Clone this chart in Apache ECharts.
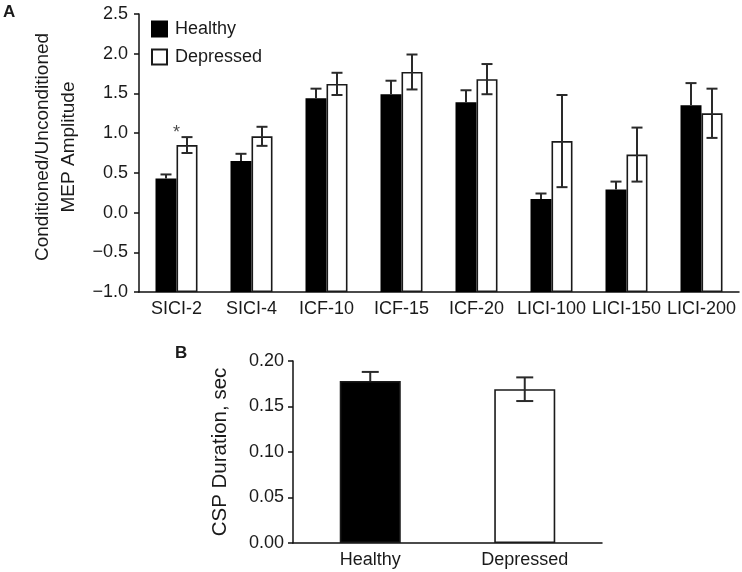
<!DOCTYPE html>
<html>
<head>
<meta charset="utf-8">
<script src="https://cdn.jsdelivr.net/npm/echarts@6/dist/echarts.min.js"></script>
<style>
html,body{margin:0;padding:0;background:#fff;}
#main{width:742px;height:572px;}
</style>
</head>
<body>
<div id="main"></div>
<script>
// ---- Data ----
const categories = ['SICI-2', 'SICI-4', 'ICF-10', 'ICF-15', 'ICF-20', 'LICI-100', 'LICI-150', 'LICI-200'];
const healthy = [0.43, 0.65, 1.44, 1.49, 1.39, 0.17, 0.29, 1.35];
const healthyErr = [0.05, 0.09, 0.12, 0.17, 0.15, 0.07, 0.10, 0.28];
const depressed = [0.85, 0.96, 1.62, 1.77, 1.68, 0.90, 0.73, 1.25];
const depressedErr = [0.10, 0.12, 0.14, 0.22, 0.19, 0.58, 0.34, 0.31];
const sigMarks = [['SICI-2', 1.0]];
const cspGroups = ['Healthy', 'Depressed'];
const cspMean = [0.178, 0.169];
const cspErr = [0.010, 0.013];

const FONT = 'Liberation Sans, Arial, sans-serif';
const TXT = '#1a1a1a';
const ERR = '#2a2a2a';

// hideLower: predicate on dataIndex -> true when the lower half sits over a black bar
function errRender(offsetFrac, capW, hideLower) {
  return function (params, api) {
    const i = api.value(0), v = api.value(1), e = api.value(2);
    const band = api.size([1, 0])[0];
    const x = api.coord([i, v])[0] + offsetFrac * band;
    const yt = api.coord([i, v + e])[1];
    const ym = api.coord([i, v])[1];
    const yb = api.coord([i, v - e])[1];
    const st = { stroke: ERR, lineWidth: 2 };
    const hide = hideLower && hideLower(params.dataIndex);
    const children = [
      { type: 'line', shape: { x1: x, y1: yt, x2: x, y2: hide ? ym : yb }, style: st },
      { type: 'line', shape: { x1: x - capW / 2, y1: yt, x2: x + capW / 2, y2: yt }, style: st }
    ];
    if (!hide) {
      children.push({ type: 'line', shape: { x1: x - capW / 2, y1: yb, x2: x + capW / 2, y2: yb }, style: st });
    }
    return { type: 'group', children: children };
  };
}

const chart = echarts.init(document.getElementById('main'), null, { renderer: 'canvas' });

const axisLineStyle = { color: '#111', width: 1.5 };
const fmt1 = v => (v < 0 ? '\u2212' + Math.abs(v).toFixed(1) : v.toFixed(1));
const fmt2 = v => v.toFixed(2);

chart.setOption({
  animation: false,
  backgroundColor: '#fff',
  textStyle: { fontFamily: FONT, color: TXT },
  graphic: [
    { type: 'text', left: 3, top: 4, style: { text: 'A', font: 'bold 17px ' + FONT, fill: TXT } },
    { type: 'text', left: 175, top: 345, style: { text: 'B', font: 'bold 17px ' + FONT, fill: TXT } }
  ],
  legend: {
    data: ['Healthy', 'Depressed'],
    orient: 'vertical',
    left: 151, top: 20,
    padding: 0,
    itemWidth: 15, itemHeight: 15, itemGap: 10,
    icon: 'rect',
    textStyle: { fontSize: 18, color: TXT, fontFamily: FONT, padding: [0, 0, 0, 3] }
  },
  grid: [
    { left: 139, top: 14, width: 600, height: 278 },
    { left: 293, top: 361, width: 309, height: 182 }
  ],
  xAxis: [
    {
      gridIndex: 0, type: 'category', data: categories,
      axisLine: { show: true, onZero: false, lineStyle: axisLineStyle },
      axisTick: { show: false },
      axisLabel: { fontSize: 18, color: TXT, fontFamily: FONT, margin: 8, interval: 0 }
    },
    {
      gridIndex: 1, type: 'category', data: cspGroups,
      axisLine: { show: true, onZero: false, lineStyle: axisLineStyle },
      axisTick: { show: false },
      axisLabel: { fontSize: 18, color: TXT, fontFamily: FONT, margin: 8 }
    }
  ],
  yAxis: [
    {
      gridIndex: 0, type: 'value', min: -1, max: 2.5, interval: 0.5, startValue: -1,
      name: 'Conditioned/Unconditioned\nMEP Amplitude',
      nameLocation: 'middle', nameRotate: 90, nameGap: 48,
      nameTextStyle: { fontSize: 19, color: TXT, fontFamily: FONT, lineHeight: 26, padding: [0, 0, 0, 12] },
      axisLine: { show: true, lineStyle: axisLineStyle },
      axisTick: { show: true, inside: false, length: 5, lineStyle: axisLineStyle },
      splitLine: { show: false },
      axisLabel: { fontSize: 18, color: TXT, fontFamily: FONT, margin: 11, formatter: fmt1 }
    },
    {
      gridIndex: 1, type: 'value', min: 0, max: 0.2, interval: 0.05,
      name: 'CSP Duration, sec',
      nameLocation: 'middle', nameRotate: 90, nameGap: 62,
      nameTextStyle: { fontSize: 20.5, color: TXT, fontFamily: FONT },
      axisLine: { show: true, lineStyle: axisLineStyle },
      axisTick: { show: true, inside: false, length: 5, lineStyle: axisLineStyle },
      splitLine: { show: false },
      axisLabel: { fontSize: 18, color: TXT, fontFamily: FONT, margin: 9, formatter: fmt2 }
    }
  ],
  series: [
    {
      name: 'Healthy', type: 'bar', xAxisIndex: 0, yAxisIndex: 0, z: 3,
      data: healthy, barWidth: '28%', barGap: '0%',
      itemStyle: { color: '#000', borderColor: '#000', borderWidth: 1.5 }
    },
    {
      name: 'Depressed', type: 'bar', xAxisIndex: 0, yAxisIndex: 0, z: 3,
      data: depressed, barWidth: '28%', barGap: '0%',
      itemStyle: { color: '#fff', borderColor: '#1a1a1a', borderWidth: 1.6 }
    },
    {
      name: 'HealthyErr', type: 'custom', xAxisIndex: 0, yAxisIndex: 0, z: 5,
      renderItem: errRender(-0.14, 11, () => true),
      encode: { x: 0, y: 1 },
      data: categories.map((c, i) => [i, healthy[i], healthyErr[i]])
    },
    {
      name: 'DepressedErr', type: 'custom', xAxisIndex: 0, yAxisIndex: 0, z: 5,
      renderItem: errRender(0.14, 11, null),
      encode: { x: 0, y: 1 },
      data: categories.map((c, i) => [i, depressed[i], depressedErr[i]])
    },
    {
      name: 'sig', type: 'scatter', xAxisIndex: 0, yAxisIndex: 0,
      symbolSize: 1, itemStyle: { color: 'rgba(0,0,0,0)' },
      data: sigMarks,
      label: { show: true, position: 'inside', formatter: '*', fontSize: 18, color: TXT, fontFamily: FONT }
    },
    {
      name: 'CSP', type: 'bar', xAxisIndex: 1, yAxisIndex: 1, z: 3,
      data: cspMean, barWidth: '39.5%',
      itemStyle: {
        color: p => (p.dataIndex === 0 ? '#000' : '#fff'),
        borderColor: '#1a1a1a', borderWidth: 1.6
      }
    },
    {
      name: 'CSPErr', type: 'custom', xAxisIndex: 1, yAxisIndex: 1, z: 5,
      renderItem: errRender(0, 17, idx => idx === 0),
      encode: { x: 0, y: 1 },
      data: cspGroups.map((c, i) => [i, cspMean[i], cspErr[i]])
    }
  ]
});
</script>
</body>
</html>
